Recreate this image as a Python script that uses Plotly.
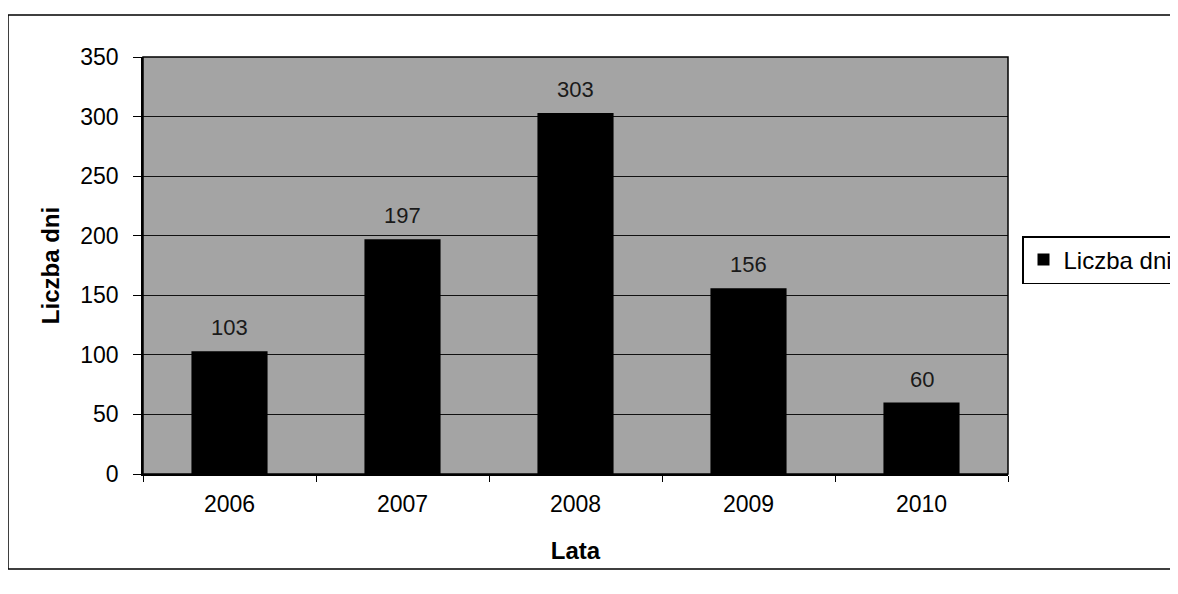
import plotly.graph_objects as go

years = ["2006", "2007", "2008", "2009", "2010"]
days = [103, 197, 303, 156, 60]
series_name = "Liczba dni"

FONT = "Liberation Sans, Arial, sans-serif"

fig = go.Figure()
fig.add_trace(go.Bar(
    x=years, y=days, name=series_name,
    marker=dict(color="#000000", line=dict(width=0)),
    showlegend=True,
))

# value labels placed from the data through the axes (category index)
for i, v in enumerate(days):
    fig.add_annotation(
        x=i, y=v, xref="x", yref="y", text=str(v), showarrow=False,
        yanchor="bottom", yshift=9,
        font=dict(family=FONT, size=22, color="#1a1a1a"),
    )

L, R, T, B = 135, 178, 49, 128
W, H = 1178, 594
pw, ph = W - L - R, H - T - B

fig.update_layout(
    width=W, height=H,
    margin=dict(l=L, r=R, t=T, b=B, autoexpand=False),
    paper_bgcolor="white",
    plot_bgcolor="#a4a4a4",
    bargap=0.56,
    font=dict(family=FONT, size=23, color="#000000"),
    xaxis=dict(
        type="category",
        categoryorder="array", categoryarray=years,
        range=[-0.5, len(years) - 0.5],
        title=dict(text="<b>Lata</b>", font=dict(size=24), standoff=26),
        showline=True, linecolor="black", linewidth=1.5,
        ticks="outside", tickson="boundaries", ticklen=6, tickcolor="black",
        ticklabelstandoff=9, tickangle=0,
        tickfont=dict(size=23),
        showgrid=False,
    ),
    yaxis=dict(
        title=dict(text="<b>Liczba dni</b>", font=dict(size=24), standoff=14),
        range=[0, 350], dtick=50,
        showline=True, linecolor="black", linewidth=1.5,
        ticks="outside", ticklen=8, tickcolor="black",
        ticklabelstandoff=10,
        tickfont=dict(size=23),
        showgrid=True, gridcolor="#111111", gridwidth=1.2,
        zeroline=False,
    ),
    legend=dict(
        x=(1014 - L) / pw, y=1 - (228 - T) / ph, xanchor="left", yanchor="top",
        bordercolor="black", borderwidth=1.5, bgcolor="white",
        font=dict(size=24), itemwidth=30,
    ),
    shapes=[
        dict(type="rect", xref="paper", yref="paper",
             x0=(0 - L) / pw, x1=(1190 - L) / pw,
             y0=1 - (561 - T) / ph, y1=1 - (7 - T) / ph,
             line=dict(color="black", width=1.5), fillcolor="rgba(0,0,0,0)",
             layer="below"),
        dict(type="rect", xref="paper", yref="paper",
             x0=0, x1=1, y0=0, y1=1,
             line=dict(color="black", width=1.5), fillcolor="rgba(0,0,0,0)"),
    ],
)

fig.write_html("out.html")
